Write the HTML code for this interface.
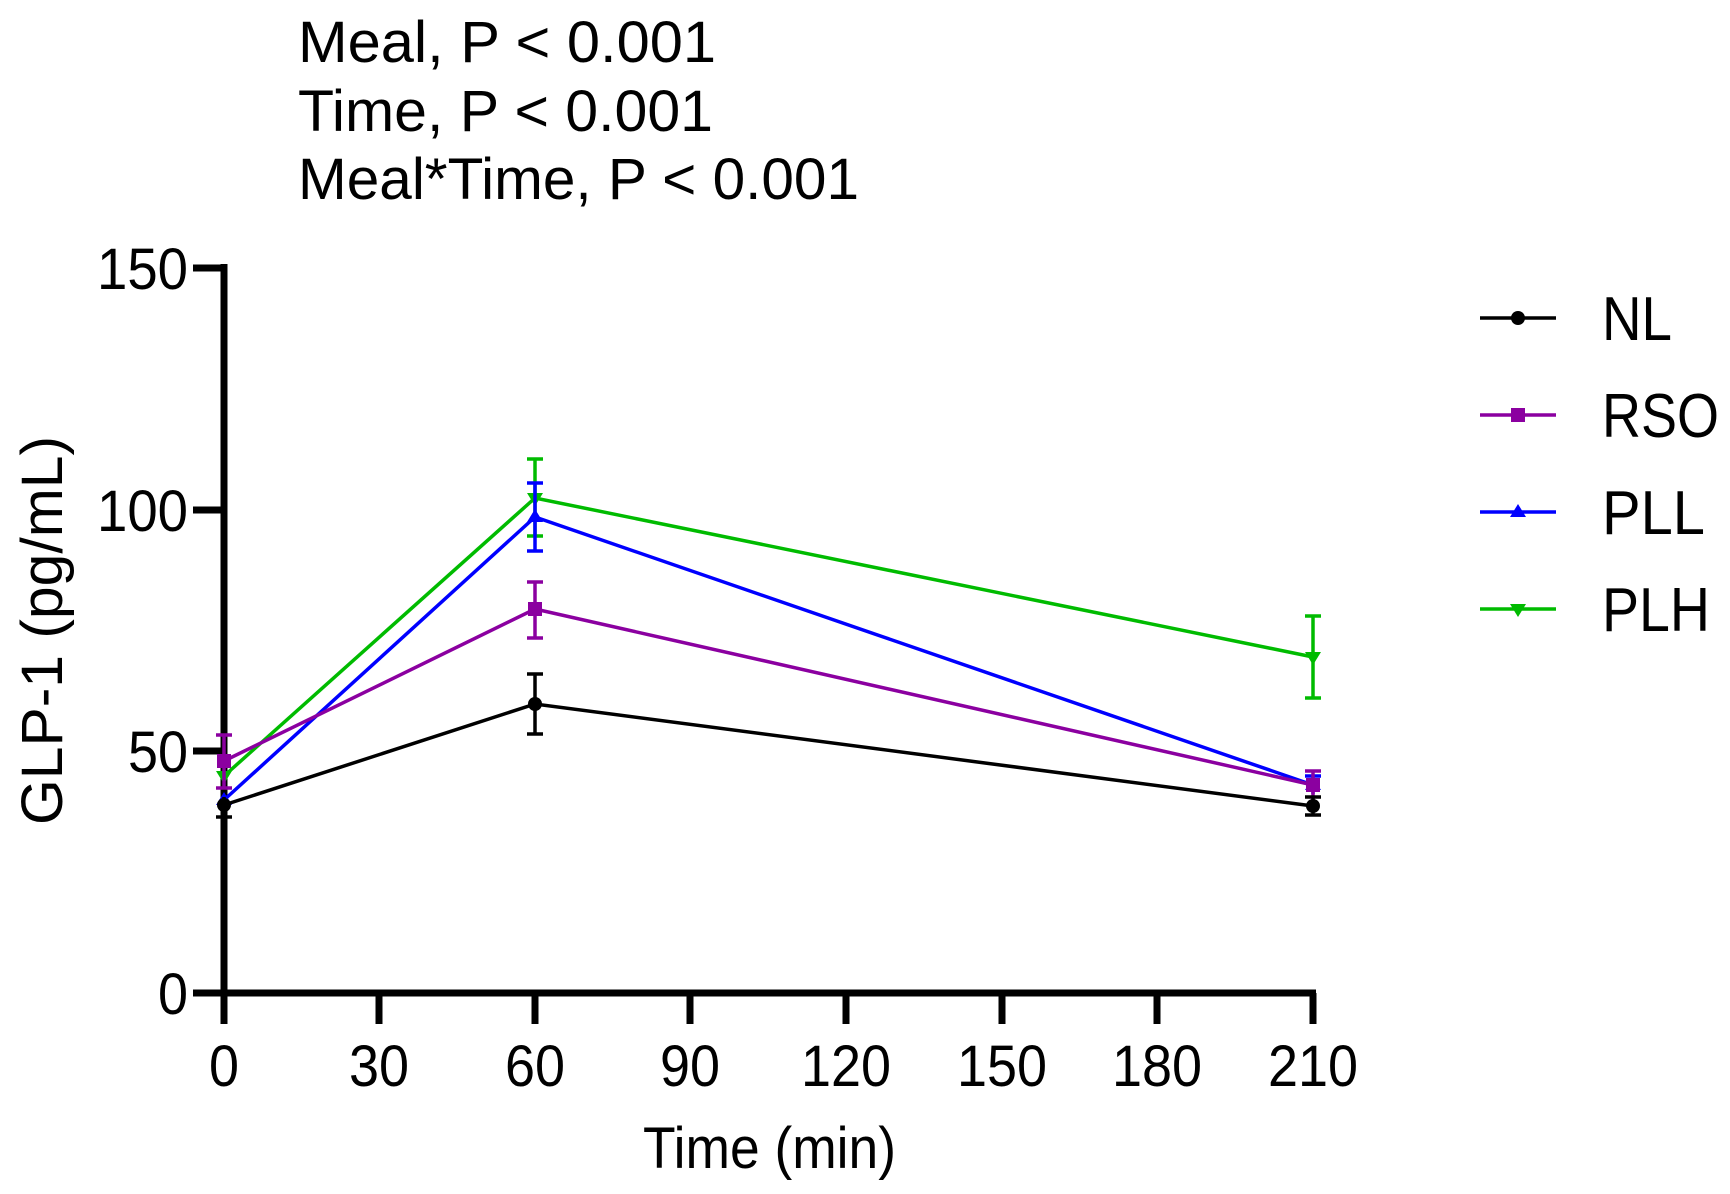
<!DOCTYPE html>
<html><head><meta charset="utf-8"><style>
html,body{margin:0;padding:0;background:#fff;}
svg{display:block;font-family:"Liberation Sans",Arial,sans-serif;}
</style></head><body>
<svg width="1730" height="1194" viewBox="0 0 1730 1194" xmlns="http://www.w3.org/2000/svg">
<g font-size="58" fill="#000">
<text x="298" y="62" textLength="418" lengthAdjust="spacingAndGlyphs">Meal, P &lt; 0.001</text>
<text x="298" y="131" textLength="415" lengthAdjust="spacingAndGlyphs">Time, P &lt; 0.001</text>
<text x="298" y="199" textLength="561" lengthAdjust="spacingAndGlyphs">Meal*Time, P &lt; 0.001</text>
</g>
<g stroke="#000" stroke-width="7" fill="none">
<line x1="224" y1="264" x2="224" y2="1024"/>
<line x1="193" y1="993" x2="1316" y2="993"/>
<line x1="193" y1="268" x2="224" y2="268"/>
<line x1="193" y1="510" x2="224" y2="510"/>
<line x1="193" y1="751" x2="224" y2="751"/>
<line x1="379" y1="993" x2="379" y2="1024"/>
<line x1="535" y1="993" x2="535" y2="1024"/>
<line x1="690" y1="993" x2="690" y2="1024"/>
<line x1="846" y1="993" x2="846" y2="1024"/>
<line x1="1002" y1="993" x2="1002" y2="1024"/>
<line x1="1157" y1="993" x2="1157" y2="1024"/>
<line x1="1313" y1="993" x2="1313" y2="1024"/>
</g>
<g font-size="58">
<text x="97" y="289" textLength="91" lengthAdjust="spacingAndGlyphs">150</text>
<text x="97" y="531" textLength="91" lengthAdjust="spacingAndGlyphs">100</text>
<text x="128" y="772" textLength="60" lengthAdjust="spacingAndGlyphs">50</text>
<text x="158" y="1014" textLength="30" lengthAdjust="spacingAndGlyphs">0</text>
</g>
<g font-size="58">
<text x="209" y="1086" textLength="30" lengthAdjust="spacingAndGlyphs">0</text>
<text x="349" y="1086" textLength="60" lengthAdjust="spacingAndGlyphs">30</text>
<text x="505" y="1086" textLength="60" lengthAdjust="spacingAndGlyphs">60</text>
<text x="660" y="1086" textLength="60" lengthAdjust="spacingAndGlyphs">90</text>
<text x="801" y="1086" textLength="90" lengthAdjust="spacingAndGlyphs">120</text>
<text x="957" y="1086" textLength="90" lengthAdjust="spacingAndGlyphs">150</text>
<text x="1112" y="1086" textLength="90" lengthAdjust="spacingAndGlyphs">180</text>
<text x="1268" y="1086" textLength="90" lengthAdjust="spacingAndGlyphs">210</text>
<text x="643" y="1168" textLength="253" lengthAdjust="spacingAndGlyphs">Time (min)</text>
</g>
<text transform="translate(62,825) rotate(-90)" font-size="58" textLength="389" lengthAdjust="spacingAndGlyphs">GLP-1 (pg/mL)</text>

<g stroke="#00bb00" stroke-width="3.5" fill="none">
<polyline points="224,776 535,498 1313,657"/>
<line x1="535" y1="459" x2="535" y2="536"/><line x1="527" y1="459" x2="543" y2="459"/><line x1="527" y1="536" x2="543" y2="536"/>
<line x1="1313" y1="616" x2="1313" y2="698"/><line x1="1305" y1="616" x2="1321" y2="616"/><line x1="1305" y1="698" x2="1321" y2="698"/>
</g>
<g fill="#00bb00"><polygon points="216,771 232,771 224,784"/><polygon points="527,493 543,493 535,506"/><polygon points="1305,652 1321,652 1313,665"/></g>
<g stroke="#0000ff" stroke-width="3.5" fill="none">
<polyline points="224,800 535,517 1313,785"/>
<line x1="535" y1="483" x2="535" y2="551"/><line x1="527" y1="483" x2="543" y2="483"/><line x1="527" y1="551" x2="543" y2="551"/>
<line x1="1313" y1="776" x2="1313" y2="794"/><line x1="1305" y1="776" x2="1321" y2="776"/>
</g>
<g fill="#0000ff"><polygon points="224,792 232,805 216,805"/><polygon points="535,509 543,522 527,522"/><polygon points="1313,777 1321,790 1305,790"/></g>
<g stroke="#8b00a0" stroke-width="3.5" fill="none">
<polyline points="224,761 535,609 1313,785"/>
<line x1="224" y1="735" x2="224" y2="788"/><line x1="216" y1="735" x2="232" y2="735"/><line x1="216" y1="788" x2="232" y2="788"/>
<line x1="535" y1="582" x2="535" y2="638"/><line x1="527" y1="582" x2="543" y2="582"/><line x1="527" y1="638" x2="543" y2="638"/>
<line x1="1313" y1="771" x2="1313" y2="798"/><line x1="1305" y1="771" x2="1321" y2="771"/>
</g>
<g fill="#8b00a0"><rect x="217" y="754" width="14" height="14"/><rect x="528" y="602" width="14" height="14"/><rect x="1306" y="778" width="14" height="14"/></g>
<g stroke="#000" stroke-width="3.5" fill="none">
<polyline points="224,805 535,704 1313,806"/>
<line x1="224" y1="797" x2="224" y2="817"/><line x1="216" y1="817" x2="232" y2="817"/>
<line x1="535" y1="674" x2="535" y2="734"/><line x1="527" y1="674" x2="543" y2="674"/><line x1="527" y1="734" x2="543" y2="734"/>
<line x1="1313" y1="797" x2="1313" y2="815"/><line x1="1305" y1="797" x2="1321" y2="797"/><line x1="1305" y1="815" x2="1321" y2="815"/>
</g>
<g fill="#000"><circle cx="224" cy="805" r="7"/><circle cx="535" cy="704" r="7"/><circle cx="1313" cy="806" r="7"/></g>

<g stroke-width="3.5">
<line x1="1480" y1="318" x2="1556" y2="318" stroke="#000"/>
<line x1="1480" y1="415" x2="1556" y2="415" stroke="#8b00a0"/>
<line x1="1480" y1="512" x2="1556" y2="512" stroke="#0000ff"/>
<line x1="1480" y1="609" x2="1556" y2="609" stroke="#00bb00"/>
</g>
<circle cx="1518" cy="318" r="7" fill="#000"/>
<rect x="1511" y="408" width="14" height="14" fill="#8b00a0"/>
<polygon points="1518,504 1526,517 1510,517" fill="#0000ff"/>
<polygon points="1510,604 1526,604 1518,617" fill="#00bb00"/>
<g font-size="62">
<text x="1602" y="340" textLength="70" lengthAdjust="spacingAndGlyphs">NL</text>
<text x="1602" y="437" textLength="117" lengthAdjust="spacingAndGlyphs">RSO</text>
<text x="1602" y="534" textLength="103" lengthAdjust="spacingAndGlyphs">PLL</text>
<text x="1602" y="631" textLength="108" lengthAdjust="spacingAndGlyphs">PLH</text>
</g>
</svg>
</body></html>
